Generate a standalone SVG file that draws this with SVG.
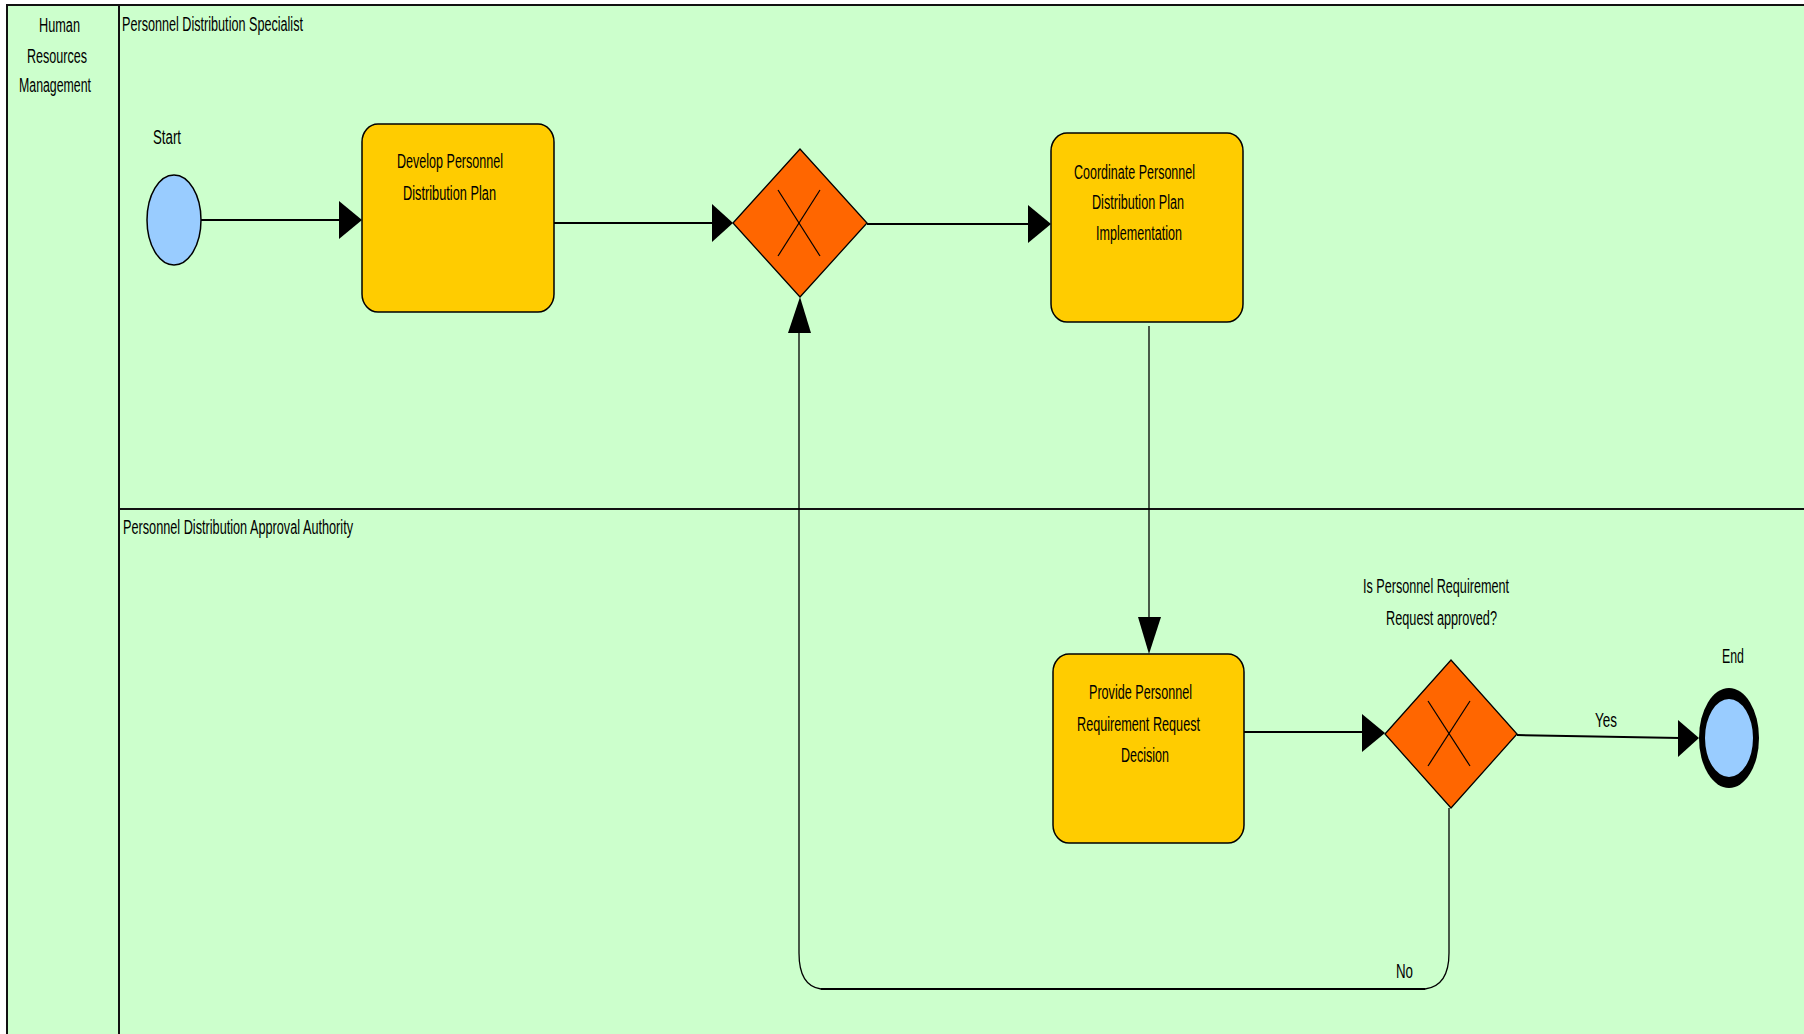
<svg xmlns="http://www.w3.org/2000/svg" width="1804" height="1034" viewBox="0 0 1804 1034">
<style>
text{font-family:"Liberation Sans",Arial,sans-serif;font-size:20px;fill:#000}
.task{fill:#FFCC00;stroke:#000;stroke-width:1.5}
.gw{fill:#FF6600;stroke:#000;stroke-width:1.3}
.gwx{stroke:#000;stroke-width:1.2;fill:none}
.ev{fill:#99CCFF;stroke:#000;stroke-width:1.5}
.h{stroke:#000;stroke-width:2;fill:none}
.v{stroke:#000;stroke-width:1.3;fill:none}
.head{fill:#000}
.lane{stroke:#111;stroke-width:2;fill:none}
.bg{fill:#CCFFCC;stroke:#111;stroke-width:2}
</style>
<rect x="0" y="0" width="1804" height="1034" fill="#fff"/>
<g id="pool">
<rect x="7" y="5" width="1810" height="1040" class="bg"/>
<line x1="119" y1="5" x2="119" y2="1040" class="lane"/>
<line x1="119" y1="509" x2="1810" y2="509" class="lane"/>
<text x="39" y="32" textLength="41" lengthAdjust="spacingAndGlyphs">Human</text>
<text x="27" y="63" textLength="60" lengthAdjust="spacingAndGlyphs">Resources</text>
<text x="19" y="92" textLength="72" lengthAdjust="spacingAndGlyphs">Management</text>
</g>
<g id="lane1"><text x="122" y="31" textLength="181" lengthAdjust="spacingAndGlyphs">Personnel Distribution Specialist</text></g>
<g id="lane2"><text x="123" y="534" textLength="230" lengthAdjust="spacingAndGlyphs">Personnel Distribution Approval Authority</text></g>
<g id="connectors">
<line x1="201" y1="220" x2="341" y2="220" class="h"/>
<polygon points="339,201 362,220 339,239" class="head"/>
<line x1="554" y1="223" x2="714" y2="223" class="h"/>
<polygon points="712,204 733,223 712,242" class="head"/>
<line x1="867" y1="224" x2="1030" y2="224" class="h"/>
<polygon points="1028,205 1051,224 1028,243" class="head"/>
<line x1="1149" y1="326" x2="1149" y2="619" class="v"/>
<polygon points="1138,617 1161,617 1149,654" class="head"/>
<line x1="1244" y1="732" x2="1364" y2="732" class="h"/>
<polygon points="1362,714 1385,733 1362,752" class="head"/>
<line x1="1517" y1="735" x2="1680" y2="738" class="h"/>
<polygon points="1678,720 1699,738 1678,757" class="head"/>
<text x="1595" y="727" textLength="22" lengthAdjust="spacingAndGlyphs">Yes</text>
<path d="M1449,808 V953 C1449,975 1441,987 1425,989 H821 C806,987 799,975 799,953 V331" class="v"/>
<line x1="821" y1="989" x2="1425" y2="989" class="h"/>
<polygon points="788,333 811,333 800,297" class="head"/>
<text x="1396" y="978" textLength="17" lengthAdjust="spacingAndGlyphs">No</text>
</g>
<g id="start">
<ellipse cx="174" cy="220" rx="27" ry="45" class="ev"/>
<text x="153" y="144" textLength="28" lengthAdjust="spacingAndGlyphs">Start</text>
</g>
<g id="task1">
<rect x="362" y="124" width="192" height="188" rx="16" ry="18" class="task"/>
<text x="397" y="168" textLength="106" lengthAdjust="spacingAndGlyphs">Develop Personnel</text>
<text x="403" y="200" textLength="93" lengthAdjust="spacingAndGlyphs">Distribution Plan</text>
</g>
<g id="gateway1">
<polygon points="733,223 800,149 867,223 800,297" class="gw"/>
<line x1="778" y1="190" x2="820" y2="256" class="gwx"/>
<line x1="820" y1="190" x2="778" y2="256" class="gwx"/>
</g>
<g id="task2">
<rect x="1051" y="133" width="192" height="189" rx="16" ry="18" class="task"/>
<text x="1074" y="179" textLength="121" lengthAdjust="spacingAndGlyphs">Coordinate Personnel</text>
<text x="1092" y="209" textLength="92" lengthAdjust="spacingAndGlyphs">Distribution Plan</text>
<text x="1096" y="240" textLength="86" lengthAdjust="spacingAndGlyphs">Implementation</text>
</g>
<g id="task3">
<rect x="1053" y="654" width="191" height="189" rx="16" ry="18" class="task"/>
<text x="1089" y="699" textLength="103" lengthAdjust="spacingAndGlyphs">Provide Personnel</text>
<text x="1077" y="731" textLength="123" lengthAdjust="spacingAndGlyphs">Requirement  Request</text>
<text x="1121" y="762" textLength="48" lengthAdjust="spacingAndGlyphs">Decision</text>
</g>
<g id="gateway2">
<polygon points="1385,734 1451,660 1517,734 1451,808" class="gw"/>
<line x1="1428" y1="701" x2="1470" y2="766" class="gwx"/>
<line x1="1470" y1="701" x2="1428" y2="766" class="gwx"/>
<text x="1363" y="593" textLength="146" lengthAdjust="spacingAndGlyphs">Is Personnel Requirement</text>
<text x="1386" y="625" textLength="111" lengthAdjust="spacingAndGlyphs">Request approved?</text>
</g>
<g id="end">
<ellipse cx="1729" cy="738" rx="30" ry="50" fill="#000"/>
<ellipse cx="1729" cy="738" rx="24" ry="39" fill="#99CCFF"/>
<text x="1722" y="663" textLength="22" lengthAdjust="spacingAndGlyphs">End</text>
</g>
</svg>
